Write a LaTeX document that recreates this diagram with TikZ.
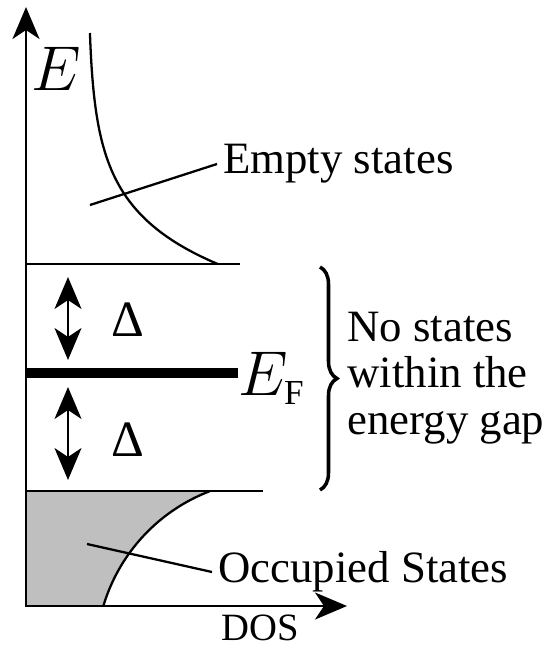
\RequirePackage{fix-cm}
\documentclass[tikz,border=0pt]{standalone}
\usepackage{fontspec}
\setmainfont{Liberation Serif}
\usetikzlibrary{arrows.meta,positioning,decorations.pathreplacing}
\definecolor{ink}{HTML}{000000}
\definecolor{occfill}{HTML}{BFBFBF}

\begin{document}
\begin{tikzpicture}[x=0.02cm, y=-0.02cm,
  >={Stealth[length=0.64cm, width=0.54cm, inset=0.18cm]},
  axis/.style={<->, ink, line width=1.5pt},
  bandedge/.style={ink, line width=1.4pt},
  dos/.style={ink, line width=1.3pt},
  leader/.style={ink, line width=1.3pt},
  fermi/.style={ink, line width=5.7pt},
  gaparrow/.style={<->, ink, line width=1.2pt},
  gapbrace/.style={ink, line width=2pt,
    decorate, decoration={brace, amplitude=0.34cm}},
  lbl/.style={font=\fontsize{25.5}{26.6}\selectfont, anchor=west},
  sym/.style={inner sep=0pt, font=\fontsize{36}{40}\selectfont, anchor=base west},
  deltasym/.style={inner sep=0pt, font=\fontsize{29}{32}\selectfont}]

\useasboundingbox (0,0) rectangle (555,646);

% ---------------------------------------------- labels
\node[lbl] (empty) at (217,164) {Empty states};
\node[lbl] (occ) at (212,572) {Occupied States};
\coordinate (gapmid) at (337,378);
\node[lbl, align=left, inner sep=0pt, right=0.2cm of gapmid] (gaptxt)
  {No states\\within the\\energy gap};
\node[inner sep=0pt, font=\fontsize{22}{26}\selectfont, anchor=base]
  (doslab) at (260,640) {DOS};

% ---------------------------------------------- axes
\coordinate (origin) at (26,606);
\coordinate (etip) at (26,7);
\coordinate (dtip) at (347,606);
\coordinate (cband) at (26,264);
\coordinate (vband) at (26,491);
\coordinate (flevel) at (26,373);

% occupied states, shaded
\fill[occfill] (vband) -- plot[variable=\t, domain=111:163.4, samples=40]
  ({273+177*cos(\t)},{656.5-177*sin(\t)}) -- (origin) -- cycle;
\draw[dos] plot[variable=\t, domain=111:163.4, samples=40]
  ({273+177*cos(\t)},{656.5-177*sin(\t)});

\draw[axis] (etip) -- (origin) -- (dtip);

% ---------------------------------------------- band edges
\draw[bandedge] (cband) -- ++(214,0);
\draw[bandedge] (vband) -- ++(237,0);

% empty states
\draw[dos] plot[variable=\u, domain=0:231, samples=60]
  ({88+129.6*exp(-\u/55)},{264-\u});

% leaders
\coordinate (emptypt) at (90,205);
\draw[leader] (emptypt) -- (empty.west);
\coordinate (occpt) at (87,544);
\draw[leader] (occpt) -- (occ.west);

% ---------------------------------------------- gap
\coordinate (gaptop) at (320,267);
\coordinate (gapbot) at (320,490);
\draw[gapbrace] (gaptop) -- (gapbot);

\coordinate (a1) at (68,277);
\coordinate (a2) at (68,360);
\coordinate (a3) at (68,387);
\coordinate (a4) at (68,480);
\draw[gaparrow] (a1) -- (a2);
\draw[gaparrow] (a3) -- (a4);
\node[deltasym] (d1) at (128,320) {Δ};
\node[deltasym] (d2) at (128,440) {Δ};

% ---------------------------------------------- E and Fermi level
\node[sym] (elab) at (31,90) {$E$};
\node[sym] (ef) at (238,395) {$E_{\mbox{\fontsize{20}{22}\selectfont F}}$};
\draw[fermi] (flevel) -- (flevel -| ef.west);

\end{tikzpicture}
\end{document}
